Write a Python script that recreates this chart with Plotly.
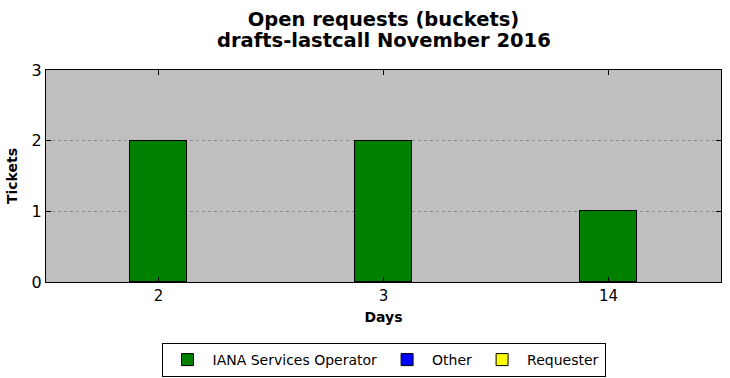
import plotly.graph_objects as go

days = ["2", "3", "14"]
iana = [2, 2, 1]
other = [None, None, None]
requester = [None, None, None]
y_ticks = [0, 1, 2, 3]
title_lines = ["Open requests (buckets)", "drafts-lastcall November 2016"]

fig = go.Figure()
for name, vals, color in [("IANA Services Operator", iana, "#008000"),
                          ("Other", other, "#0000ff"),
                          ("Requester", requester, "#ffff00")]:
    fig.add_trace(go.Bar(x=days, y=vals, name=name, width=0.25,
                         marker=dict(color=color, line=dict(color="black", width=1))))

fig.update_layout(
    width=730, height=378,
    barmode="stack",
    margin=dict(l=46, r=9, t=70, b=96, autoexpand=False),
    paper_bgcolor="white", plot_bgcolor="#bfbfbf",
    font=dict(family="DejaVu Sans", color="black"),
    title=dict(text="<b>" + title_lines[0] + "</b>",
               xref="paper", x=0.5, xanchor="center", yref="container", y=1 - 19 / 378,
               yanchor="middle", font=dict(size=19.5, family="DejaVu Sans")),
    showlegend=True,
    legend=dict(orientation="h", x=0.5, xanchor="center", yref="container",
                y=1 - 343 / 378, yanchor="top",
                bordercolor="black", borderwidth=1, font=dict(size=14),
                itemwidth=40, traceorder="normal"),
    bargap=0,
)
fig.add_annotation(text="<b>" + title_lines[1] + "</b>", xref="paper", yref="paper",
                   x=0.5, xanchor="center", y=(282 - 41) / 212, yanchor="middle",
                   showarrow=False, font=dict(size=19.5, family="DejaVu Sans"))
fig.update_xaxes(type="category", range=[-0.5, 2.5], showline=True, linecolor="black",
                 linewidth=1, mirror="ticks", ticks="inside", ticklen=5, tickcolor="black",
                 showgrid=False, tickfont=dict(size=15), automargin=False,
                 title=dict(text="<b>Days</b>", font=dict(size=14), standoff=8))
fig.update_yaxes(range=[0, 3], tickvals=y_ticks, showline=True, linecolor="black",
                 linewidth=1, mirror="ticks", ticks="inside", ticklen=5, tickcolor="black",
                 showgrid=True, gridcolor="#8a8a8a", griddash="dot", gridwidth=1,
                 zeroline=False, tickfont=dict(size=16), automargin=False,
                 title=dict(text="<b>Tickets</b>", font=dict(size=14), standoff=10))

fig.write_html("out.html", config={"displayModeBar": False},
               post_script="document.body.style.margin='0';document.body.style.overflow='hidden';")
